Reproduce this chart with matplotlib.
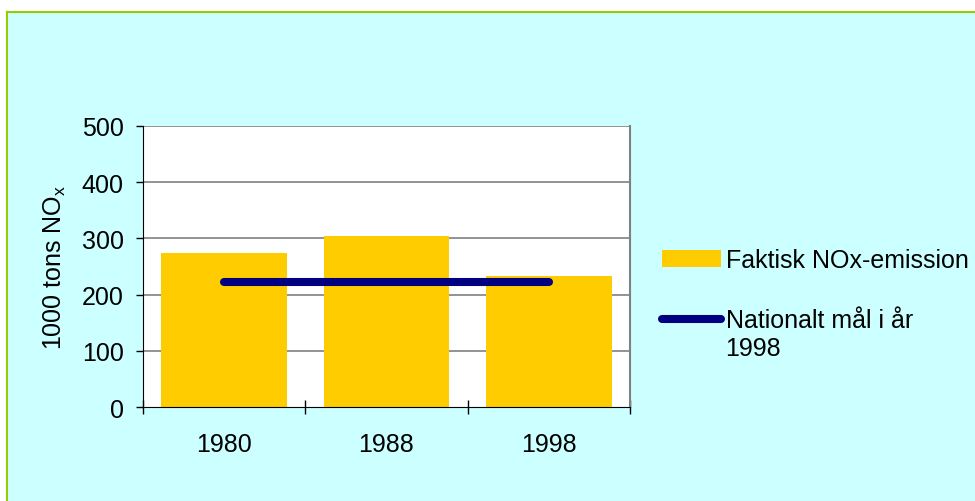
import numpy as np
import matplotlib.pyplot as plt
from matplotlib.patches import Rectangle, Patch
from matplotlib.lines import Line2D

plt.rcParams['font.family'] = ['Liberation Sans', 'DejaVu Sans']

years = ['1980', '1988', '1998']
emission = [274, 304, 233]
target = 223
yticks = [0, 100, 200, 300, 400, 500]

W, H = 975, 502
FS = 18
fig = plt.figure(figsize=(W / 100, H / 100), dpi=100, facecolor='white')

# cyan panel with green edge on top and left
fig.patches.append(Rectangle((7 / W, 0), 1, 1 - 13 / H, transform=fig.transFigure,
                             facecolor='#CCFFFF', edgecolor='none', zorder=-2))
fig.lines.append(Line2D([6.5 / W, 1], [1 - 12.5 / H] * 2, transform=fig.transFigure,
                        color='#99CC00', lw=1.5, zorder=-1))
fig.lines.append(Line2D([6.5 / W] * 2, [0, 1 - 12.5 / H], transform=fig.transFigure,
                        color='#99CC00', lw=1.5, zorder=-1))

ax = fig.add_axes([143 / W, 1 - 408 / H, (630 - 143) / W, (408 - 127) / H])
ax.set_zorder(1)
ax.set_facecolor('white')

x = np.arange(len(years))
ax.bar(x, emission, width=0.775, color='#FFCC00', zorder=2)
ax.plot([x[0], x[-1]], [target, target], color='#000080', lw=5.8,
        solid_capstyle='round', zorder=3)

ax.set_xlim(-0.5, len(years) - 0.5)
ax.set_ylim(0, 500)
ax.set_yticks(yticks)
ax.set_yticklabels([str(v) for v in yticks], fontsize=FS)
ax.set_xticks(x)
ax.set_xticklabels(years, fontsize=FS)
ax.tick_params(axis='x', length=0, pad=18)
ax.tick_params(axis='y', length=5, width=1, color='black', pad=9)

# category boundary ticks crossing the x axis
ax.set_xticks(np.arange(len(years) + 1) - 0.5, minor=True)
ax.tick_params(axis='x', which='minor', length=10, width=1, direction='inout', color='black')

for v in yticks[1:]:
    ax.axhline(v, color='#808080', lw=1.2, zorder=1)

ax.spines['left'].set_color('black')
ax.spines['bottom'].set_color('black')
ax.spines['top'].set_visible(False)
ax.spines['right'].set_color('#808080')
ax.spines['right'].set_linewidth(1.5)

ax.set_ylabel('1000 tons NO$_\\mathregular{x}$', fontsize=FS, labelpad=10)

handles = [Patch(facecolor='#FFCC00', edgecolor='none'),
           Line2D([0], [0], color='#000080', lw=5.8, solid_capstyle='round')]
fig.legend(handles, ['Faktisk NOx-emission', 'Nationalt mål i år'],
           loc='upper left', bbox_to_anchor=(652 / W, 1 - 239 / H), frameon=False,
           fontsize=FS, handlelength=2.35, handleheight=0.7, handletextpad=0.2,
           labelspacing=1.45, borderaxespad=0)
fig.text(725 / W, 1 - 349 / H, '1998', fontsize=FS, va='center', ha='left')

fig.savefig('out.png', dpi=100, facecolor=fig.get_facecolor())
